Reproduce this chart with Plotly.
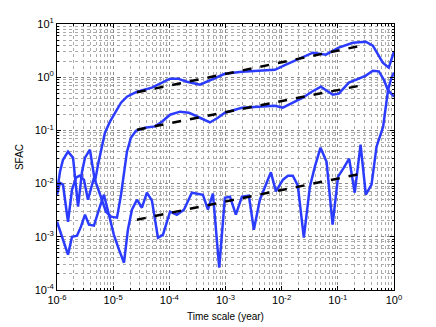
import plotly.graph_objects as go

# time scale (year) and SFAC values
t_a = [1.00e-6, 1.13e-6, 1.28e-6, 1.57e-6, 1.93e-6, 2.18e-6, 2.37e-6, 2.79e-6, 3.15e-6, 3.86e-6,
       4.38e-6, 4.74e-6, 5.37e-6, 6.07e-6, 7.14e-6, 8.77e-6, 1.08e-5, 1.38e-5, 1.76e-5, 2.65e-5,
       4.90e-5, 7.38e-5, 1.03e-4, 1.42e-4, 2.06e-4, 3.50e-4, 5.50e-4, 9.75e-4, 1.96e-3, 4.45e-3,
       7.57e-3, 1.19e-2, 2.02e-2, 3.59e-2, 6.11e-2, 0.104, 0.185, 0.315, 0.420, 0.632, 0.807, 1.0]
sfac_a = [7.05e-3, 1.67e-2, 2.81e-2, 3.98e-2, 3.07e-2, 7.67e-3, 3.68e-3, 1.67e-2, 3.07e-2, 4.34e-2,
          1.82e-2, 1.09e-2, 2.26e-2, 4.34e-2, 9.06e-2, 0.146, 0.215, 0.332, 0.430, 0.533,
          0.635, 0.789, 0.938, 0.938, 0.822, 0.723, 0.897, 1.16, 1.27, 1.32,
          1.38, 1.72, 2.23, 2.89, 2.65, 3.59, 4.45, 4.65, 3.91, 1.87, 1.51, 3.01]

t_b = [1.00e-6, 1.13e-6, 1.28e-6, 1.57e-6, 1.85e-6, 2.18e-6, 2.56e-6, 3.02e-6, 3.56e-6, 4.03e-6,
       4.55e-6, 5.15e-6, 6.07e-6, 7.45e-6, 9.14e-6, 1.17e-5, 1.38e-5, 1.56e-5, 1.76e-5, 2.07e-5,
       2.55e-5, 3.68e-5, 5.55e-5, 7.38e-5, 1.03e-4, 1.55e-4, 2.23e-4, 3.50e-4, 5.27e-4, 7.33e-4,
       9.75e-4, 1.96e-3, 4.45e-3, 7.57e-3, 1.05e-2, 1.72e-2, 2.38e-2, 3.44e-2, 4.99e-2, 6.37e-2,
       8.15e-2, 0.104, 0.157, 0.237, 0.315, 0.420, 0.537, 0.659, 0.776, 1.0]
sfac_b = [6.18e-3, 1.04e-2, 9.53e-3, 1.92e-3, 7.67e-3, 1.29e-2, 1.41e-2, 1.18e-2, 4.98e-3, 7.67e-3,
          1.29e-2, 9.14e-3, 5.43e-3, 2.96e-3, 2.39e-3, 2.29e-3, 6.18e-3, 1.67e-2, 3.98e-2, 7.29e-2,
          9.86e-2, 0.112, 0.119, 0.146, 0.197, 0.225, 0.215, 0.173, 0.141, 0.173,
          0.215, 0.267, 0.282, 0.291, 0.267, 0.346, 0.412, 0.533, 0.662, 0.557,
          0.469, 0.490, 0.789, 0.938, 1.07, 1.32, 1.29, 0.897, 0.582, 0.430]

t_c = [1.00e-6, 1.28e-6, 1.57e-6, 1.85e-6, 2.27e-6, 2.67e-6, 3.15e-6, 3.71e-6, 4.55e-6, 5.58e-6,
       6.85e-6, 8.41e-6, 1.03e-5, 1.27e-5, 1.56e-5, 1.83e-5, 2.16e-5, 2.65e-5, 3.25e-5, 3.99e-5,
       4.90e-5, 6.27e-5, 7.69e-5, 1.03e-4, 1.36e-4, 1.82e-4, 2.52e-4, 3.96e-4, 4.86e-4, 5.97e-4,
       7.73e-4, 9.75e-4, 1.20e-3, 1.53e-3, 1.96e-3, 2.61e-3, 3.20e-3, 4.09e-3, 5.24e-3, 6.43e-3,
       7.89e-3, 1.05e-2, 1.29e-2, 1.58e-2, 1.94e-2, 2.48e-2, 3.18e-2, 3.90e-2, 4.92e-2, 6.30e-2,
       8.07e-2, 0.101, 0.128, 0.159, 0.200, 0.254, 0.315, 0.398, 0.489, 0.640,
       0.785, 0.904, 1.0]
sfac_c = [1.92e-3, 8.83e-4, 4.61e-4, 1.00e-3, 1.05e-3, 1.55e-3, 2.60e-3, 1.69e-3, 1.62e-3, 3.23e-3,
          6.18e-3, 2.60e-3, 1.09e-3, 5.73e-4, 3.26e-4, 1.36e-3, 3.23e-3, 4.98e-3, 3.52e-3, 6.75e-3,
          4.78e-3, 9.61e-4, 1.09e-3, 2.96e-3, 2.60e-3, 3.23e-3, 6.75e-3, 6.18e-3, 3.23e-3, 6.46e-3,
          2.62e-4, 5.43e-3, 5.68e-3, 2.60e-3, 5.68e-3, 5.92e-3, 1.36e-3, 4.98e-3, 9.53e-3, 1.63e-2,
          7.13e-3, 1.18e-2, 1.41e-2, 1.41e-2, 9.14e-3, 9.61e-4, 8.75e-3, 2.08e-2, 4.73e-2, 2.58e-2,
          1.69e-3, 1.35e-2, 1.99e-2, 2.94e-2, 6.75e-3, 5.38e-2, 6.18e-3, 9.53e-3, 4.94e-2, 0.117,
          0.582, 0.979, 1.22]

# power-law fits (dashed)
fit_t = [2.65e-5, 0.26]
fit_a = [0.52, 3.9]
fit_b = [0.103, 0.70]
fit_c = [2.1e-3, 1.53e-2]

x_ticks = [1e-6, 1e-5, 1e-4, 1e-3, 1e-2, 1e-1, 1e0]
x_labels = ['10<sup>-6</sup>', '10<sup>-5</sup>', '10<sup>-4</sup>', '10<sup>-3</sup>',
            '10<sup>-2</sup>', '10<sup>-1</sup>', '10<sup>0</sup>']
y_ticks = [1e-4, 1e-3, 1e-2, 1e-1, 1e0, 1e1]
y_labels = ['10<sup>-4</sup>', '10<sup>-3</sup>', '10<sup>-2</sup>', '10<sup>-1</sup>',
            '10<sup>0</sup>', '10<sup>1</sup>']

# minor (2..9) positions inside each decade
x_minor = [m * d for d in x_ticks[:-1] for m in range(2, 10)]
y_minor = [m * d for d in y_ticks[:-1] for m in range(2, 10)]

blue = '#2b3cff'

fig = go.Figure()
for t, s in [(t_a, sfac_a), (t_b, sfac_b), (t_c, sfac_c)]:
    fig.add_trace(go.Scatter(x=t, y=s, mode='lines',
                             line=dict(color=blue, width=2.5), showlegend=False))
for s in [fit_a, fit_b, fit_c]:
    fig.add_trace(go.Scatter(x=fit_t, y=s, mode='lines',
                             line=dict(color='black', width=2.5, dash='dash'), showlegend=False))


def axis_style(minor_vals):
    return dict(type='log', showline=True, linecolor='black', linewidth=1, mirror='ticks',
                ticks='inside', ticklen=4, tickcolor='black', automargin=False,
                showgrid=True, gridcolor='#8a8a8a', griddash='dot', gridwidth=1,
                zeroline=False,
                minor=dict(tickmode='array', tickvals=minor_vals,
                           ticks='inside', ticklen=2, tickcolor='black',
                           showgrid=True, gridcolor='#ababab', griddash='dot', gridwidth=1),
                tickfont=dict(size=11, color='black'))


fig.update_xaxes(range=[-6, 0], tickvals=x_ticks, ticktext=x_labels,
                 title=dict(text='Time scale (year)', font=dict(size=10, color='black'), standoff=7),
                 **axis_style(x_minor))
fig.update_yaxes(range=[-4, 1], tickvals=y_ticks, ticktext=y_labels,
                 title=dict(text='SFAC', font=dict(size=10, color='black'), standoff=9),
                 **axis_style(y_minor))

# the page body adds ~8px around the figure, so margins are shifted to keep the plot area in place
fig.update_layout(width=436, height=327, margin=dict(l=49, r=50, t=16, b=45),
                  paper_bgcolor='white', plot_bgcolor='white',
                  font=dict(family='Liberation Sans, Arial, sans-serif', color='black'))

fig.write_html('out.html')
